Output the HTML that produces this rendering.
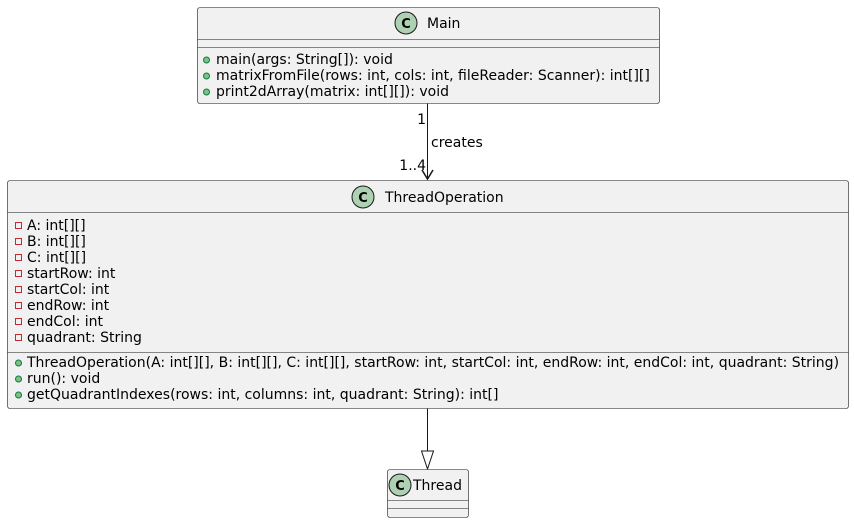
<!DOCTYPE html>
<html><head><meta charset="utf-8"><style>
html,body{margin:0;padding:0;background:#fff;}
svg{display:block;}
text{font-family:"DejaVu Sans","Liberation Sans",sans-serif;fill:#000;}
.m{font-size:14px;}
.t{font-size:14px;}
.c{font-size:13px;font-weight:bold;}
</style></head><body>
<svg width="854" height="523" viewBox="0 0 854 523" xmlns="http://www.w3.org/2000/svg">
<!-- Main -->
<rect x="197.5" y="7.5" width="462" height="96" rx="2.5" fill="#F1F1F1" stroke="#181818" stroke-width="0.6"/>
<line x1="197.5" y1="39.5" x2="659.5" y2="39.5" stroke="#181818" stroke-width="0.6"/>
<line x1="197.5" y1="47.5" x2="659.5" y2="47.5" stroke="#181818" stroke-width="0.6"/>
<circle cx="406" cy="23" r="11" fill="#ADD1B2" stroke="#181818" stroke-width="1"/>
<text x="406" y="28" class="c" text-anchor="middle">C</text>
<text x="427" y="28" class="t">Main</text>
<circle cx="206.5" cy="60" r="3" fill="#84BE84" stroke="#038048" stroke-width="1"/>
<text x="216" y="64" class="m">main(args: String[]): void</text>
<circle cx="206.5" cy="76" r="3" fill="#84BE84" stroke="#038048" stroke-width="1"/>
<text x="216" y="80" class="m">matrixFromFile(rows: int, cols: int, fileReader: Scanner): int[][]</text>
<circle cx="206.5" cy="92" r="3" fill="#84BE84" stroke="#038048" stroke-width="1"/>
<text x="216" y="96" class="m">print2dArray(matrix: int[][]): void</text>

<!-- edge creates -->
<line x1="427.5" y1="103.5" x2="427.5" y2="179" stroke="#181818" stroke-width="1"/>
<polyline points="422,170 427.5,179 433,170" fill="none" stroke="#181818" stroke-width="1.5"/>
<text x="426" y="124" class="m" text-anchor="end">1</text>
<text x="431" y="147" class="m">creates</text>
<text x="426" y="170" class="m" text-anchor="end">1..4</text>

<!-- ThreadOperation -->
<rect x="7.5" y="180.5" width="841" height="228" rx="2.5" fill="#F1F1F1" stroke="#181818" stroke-width="0.6"/>
<line x1="7.5" y1="212.5" x2="848.5" y2="212.5" stroke="#181818" stroke-width="0.6"/>
<line x1="7.5" y1="352.5" x2="848.5" y2="352.5" stroke="#181818" stroke-width="0.6"/>
<circle cx="363" cy="197" r="11" fill="#ADD1B2" stroke="#181818" stroke-width="1"/>
<text x="363" y="202" class="c" text-anchor="middle">C</text>
<text x="385" y="202" class="t">ThreadOperation</text>
<g fill="none" stroke="#C82930" stroke-width="1">
<rect x="15.5" y="222.5" width="6" height="6"/>
<rect x="15.5" y="238.5" width="6" height="6"/>
<rect x="15.5" y="254.5" width="6" height="6"/>
<rect x="15.5" y="270.5" width="6" height="6"/>
<rect x="15.5" y="286.5" width="6" height="6"/>
<rect x="15.5" y="302.5" width="6" height="6"/>
<rect x="15.5" y="318.5" width="6" height="6"/>
<rect x="15.5" y="334.5" width="6" height="6"/>
</g>
<text x="27" y="230" class="m">A: int[][]</text>
<text x="27" y="246" class="m">B: int[][]</text>
<text x="27" y="262" class="m">C: int[][]</text>
<text x="27" y="278" class="m">startRow: int</text>
<text x="27" y="294" class="m">startCol: int</text>
<text x="27" y="310" class="m">endRow: int</text>
<text x="27" y="326" class="m">endCol: int</text>
<text x="27" y="342" class="m">quadrant: String</text>
<circle cx="18.5" cy="363" r="3" fill="#84BE84" stroke="#038048" stroke-width="1"/>
<text x="27" y="367" class="m">ThreadOperation(A: int[][], B: int[][], C: int[][], startRow: int, startCol: int, endRow: int, endCol: int, quadrant: String)</text>
<circle cx="18.5" cy="379" r="3" fill="#84BE84" stroke="#038048" stroke-width="1"/>
<text x="27" y="383" class="m">run(): void</text>
<circle cx="18.5" cy="395" r="3" fill="#84BE84" stroke="#038048" stroke-width="1"/>
<text x="27" y="399" class="m">getQuadrantIndexes(rows: int, columns: int, quadrant: String): int[]</text>

<!-- inheritance -->
<line x1="427.5" y1="408.5" x2="427.5" y2="451" stroke="#181818" stroke-width="1"/>
<polygon points="421.5,451 433.5,451 427.5,469" fill="#fff" stroke="#181818" stroke-width="1"/>

<!-- Thread -->
<rect x="387.5" y="469.5" width="81" height="48" rx="2.5" fill="#F1F1F1" stroke="#181818" stroke-width="0.6"/>
<line x1="387.5" y1="500.5" x2="468.5" y2="500.5" stroke="#181818" stroke-width="0.6"/>
<line x1="387.5" y1="508.5" x2="468.5" y2="508.5" stroke="#181818" stroke-width="0.6"/>
<circle cx="400" cy="485" r="11" fill="#ADD1B2" stroke="#181818" stroke-width="1"/>
<text x="400" y="490" class="c" text-anchor="middle">C</text>
<text x="413" y="490" class="t">Thread</text>
</svg>
</body></html>
